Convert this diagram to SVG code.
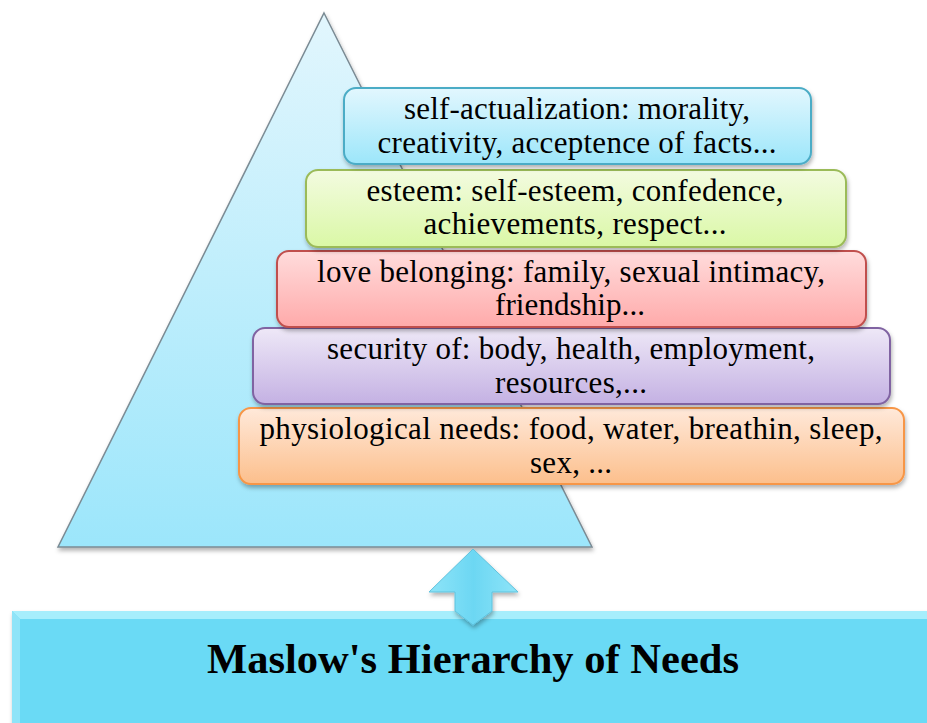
<svg xmlns="http://www.w3.org/2000/svg" width="927" height="723" viewBox="0 0 927 723">
<defs>
<linearGradient id="gTri" x1="0" y1="0" x2="0" y2="1"><stop offset="0" stop-color="#e2f6fd"/><stop offset="1" stop-color="#9ce6fb"/></linearGradient>
<linearGradient id="gBlue" x1="0" y1="0" x2="0" y2="1"><stop offset="0" stop-color="#e2f7fe"/><stop offset="1" stop-color="#9ce6fa"/></linearGradient>
<linearGradient id="gGreen" x1="0" y1="0" x2="0" y2="1"><stop offset="0" stop-color="#f3fbe0"/><stop offset="1" stop-color="#daf8a6"/></linearGradient>
<linearGradient id="gRed" x1="0" y1="0" x2="0" y2="1"><stop offset="0" stop-color="#ffdcdc"/><stop offset="1" stop-color="#ffaaaa"/></linearGradient>
<linearGradient id="gPurple" x1="0" y1="0" x2="0" y2="1"><stop offset="0" stop-color="#eee8f7"/><stop offset="1" stop-color="#c4b1e3"/></linearGradient>
<linearGradient id="gOrange" x1="0" y1="0" x2="0" y2="1"><stop offset="0" stop-color="#ffe9da"/><stop offset="1" stop-color="#fcbf8c"/></linearGradient>
<linearGradient id="gArrow" x1="0" y1="0" x2="1" y2="0"><stop offset="0" stop-color="#8ee4f8"/><stop offset="0.5" stop-color="#6cd7f3"/><stop offset="1" stop-color="#8ee4f8"/></linearGradient>
<filter id="sh" x="-10%" y="-10%" width="120%" height="130%"><feDropShadow dx="1" dy="3" stdDeviation="2" flood-color="#000" flood-opacity="0.3"/></filter>
</defs>
<style>
.box{stroke-width:2}
</style>
<g id="pyramid">
<polygon points="324,13 592,547 58,547" fill="url(#gTri)" stroke="#7b8b94" stroke-width="1.5" filter="url(#sh)"/>
</g>
<g id="title">
<rect x="12" y="611" width="930" height="120" fill="#6bdaf5" filter="url(#sh)"/>
<polygon points="12,611 942,611 934,619 20,619" fill="#a6eefc"/>
<polygon points="12,611 20,619 20,731 12,731" fill="#8fe4f8"/>
<text x="473" y="673" font-family="'Liberation Serif', 'Times New Roman', serif" font-size="42.5" font-weight="bold" text-anchor="middle" fill="#000" textLength="532" lengthAdjust="spacingAndGlyphs">Maslow's Hierarchy of Needs</text>
</g>
<g id="connectors">
<path d="M473,549 L518,592 L492,592 L492,611 L473,625 L455,611 L455,592 L429,592 Z" fill="url(#gArrow)" stroke="#5fc2dd" stroke-width="1" filter="url(#sh)"/>
</g>
<g font-family="'Liberation Serif', 'Times New Roman', serif" font-size="31" fill="#000" text-anchor="middle">
<g id="physiological">
<rect class="box" x="239" y="408" width="665" height="76" rx="12" fill="url(#gOrange)" stroke="#f79646" filter="url(#sh)"/>
<text x="571" y="439" textLength="623" lengthAdjust="spacing">physiological needs: food, water, breathin, sleep,</text>
<text x="571" y="473" textLength="82" lengthAdjust="spacing">sex, ...</text>
</g>
<g id="security">
<rect class="box" x="253" y="328" width="637" height="76" rx="12" fill="url(#gPurple)" stroke="#8064a2" filter="url(#sh)"/>
<text x="571" y="359" textLength="488" lengthAdjust="spacing">security of: body, health, employment,</text>
<text x="571" y="393" textLength="152" lengthAdjust="spacing">resources,...</text>
</g>
<g id="love">
<rect class="box" x="277" y="251" width="589" height="76" rx="12" fill="url(#gRed)" stroke="#c0504d" filter="url(#sh)"/>
<text x="571" y="282" textLength="508" lengthAdjust="spacing">love belonging: family, sexual intimacy,</text>
<text x="570" y="315" textLength="150" lengthAdjust="spacing">friendship...</text>
</g>
<g id="esteem">
<rect class="box" x="306" y="170" width="540" height="77" rx="12" fill="url(#gGreen)" stroke="#9bbb59" filter="url(#sh)"/>
<text x="575" y="201" textLength="417" lengthAdjust="spacing">esteem: self-esteem, confedence,</text>
<text x="575" y="234" textLength="303" lengthAdjust="spacing">achievements, respect...</text>
</g>
<g id="self-actualization">
<rect class="box" x="344" y="88" width="467" height="76" rx="12" fill="url(#gBlue)" stroke="#4bacc6" filter="url(#sh)"/>
<text x="577" y="119" textLength="346" lengthAdjust="spacing">self-actualization: morality,</text>
<text x="577" y="153" textLength="399" lengthAdjust="spacing">creativity, acceptence of facts...</text>
</g>
</g>
</svg>
